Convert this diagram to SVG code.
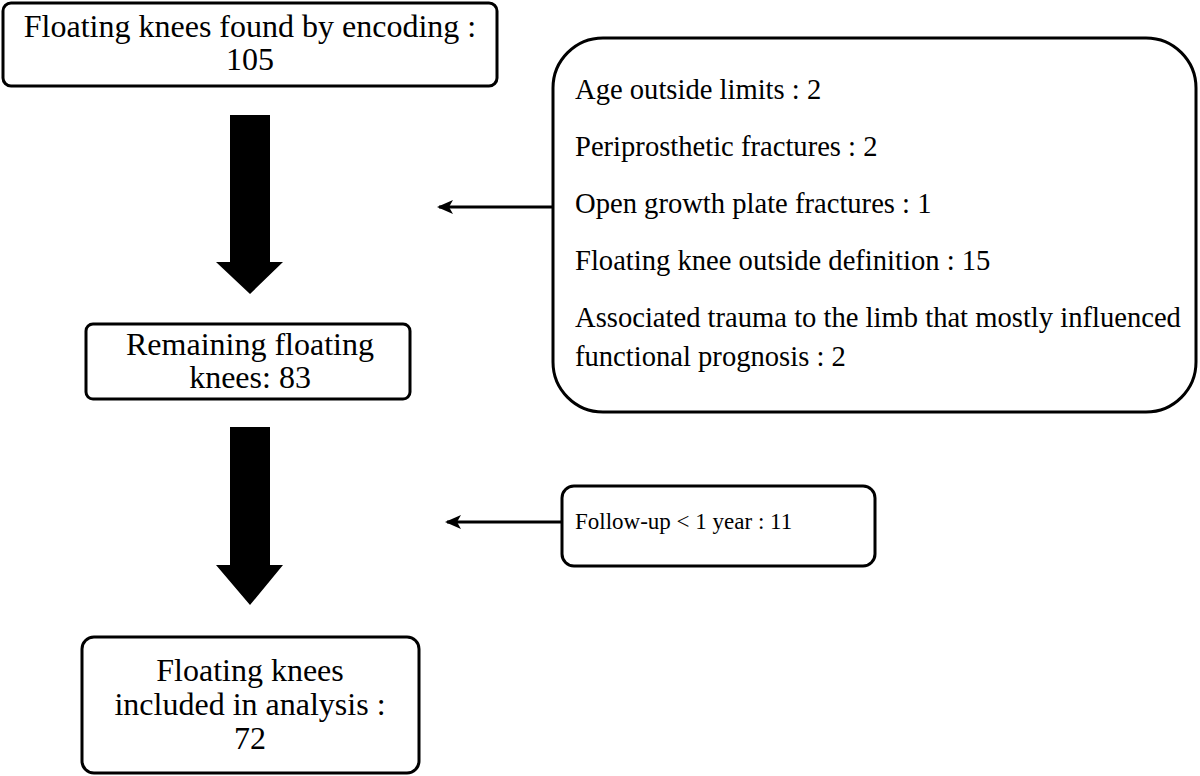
<svg xmlns="http://www.w3.org/2000/svg" width="1200" height="776" viewBox="0 0 1200 776">
<style>
.box{fill:#fff;stroke:#000;stroke-width:3}
.t{font-family:"Liberation Serif","Times New Roman",serif;fill:#000}
.big{font-size:32px;text-anchor:middle}
.side{font-size:28.6px}
.conn{stroke:#000;stroke-width:3;fill:none}
</style>
<defs>
<marker id="ah" markerWidth="16" markerHeight="14" refX="14" refY="7" orient="auto" markerUnits="userSpaceOnUse" viewBox="0 0 16 14">
<path d="M0,0 L16,7 L0,14 L4,7 Z" fill="#000"/>
</marker>
</defs>
<g id="n1">
<rect class="box" x="3" y="3" width="494" height="83" rx="8"/>
<text class="t big" x="250" y="37">Floating knees found by encoding :</text>
<text class="t big" x="250" y="70">105</text>
</g>
<g id="n2">
<rect class="box" x="86" y="324" width="324" height="75" rx="7"/>
<text class="t big" x="250" y="355">Remaining floating</text>
<text class="t big" x="250" y="388">knees: 83</text>
</g>
<g id="n3">
<rect class="box" x="82" y="637" width="337" height="136" rx="12"/>
<text class="t big" x="250" y="681">Floating knees</text>
<text class="t big" x="250" y="715">included in analysis :</text>
<text class="t big" x="250" y="749">72</text>
</g>
<g id="n4">
<rect class="box" x="553" y="38" width="643" height="374" rx="50"/>
<text class="t side" x="575" y="99">Age outside limits : 2</text>
<text class="t side" x="575" y="156">Periprosthetic fractures : 2</text>
<text class="t side" x="575" y="213">Open growth plate fractures : 1</text>
<text class="t side" x="575" y="270">Floating knee outside definition : 15</text>
<text class="t side" x="575" y="327">Associated trauma to the limb that mostly influenced</text>
<text class="t side" x="575" y="366">functional prognosis : 2</text>
</g>
<g id="n5">
<rect class="box" x="562" y="486" width="313" height="80" rx="12"/>
<text class="t" x="575" y="529" font-size="23">Follow-up &lt; 1 year : 11</text>
</g>
<g id="connectors">
<path d="M230,115 H270 V262 H283 L250,294 L216,262 H230 Z" fill="#000"/>
<path d="M230,427 H270 V565 H283 L250,605 L216,565 H230 Z" fill="#000"/>
<line class="conn" x1="553" y1="207" x2="439" y2="207" marker-end="url(#ah)"/>
<line class="conn" x1="562" y1="522" x2="447" y2="522" marker-end="url(#ah)"/>
</g>
</svg>
